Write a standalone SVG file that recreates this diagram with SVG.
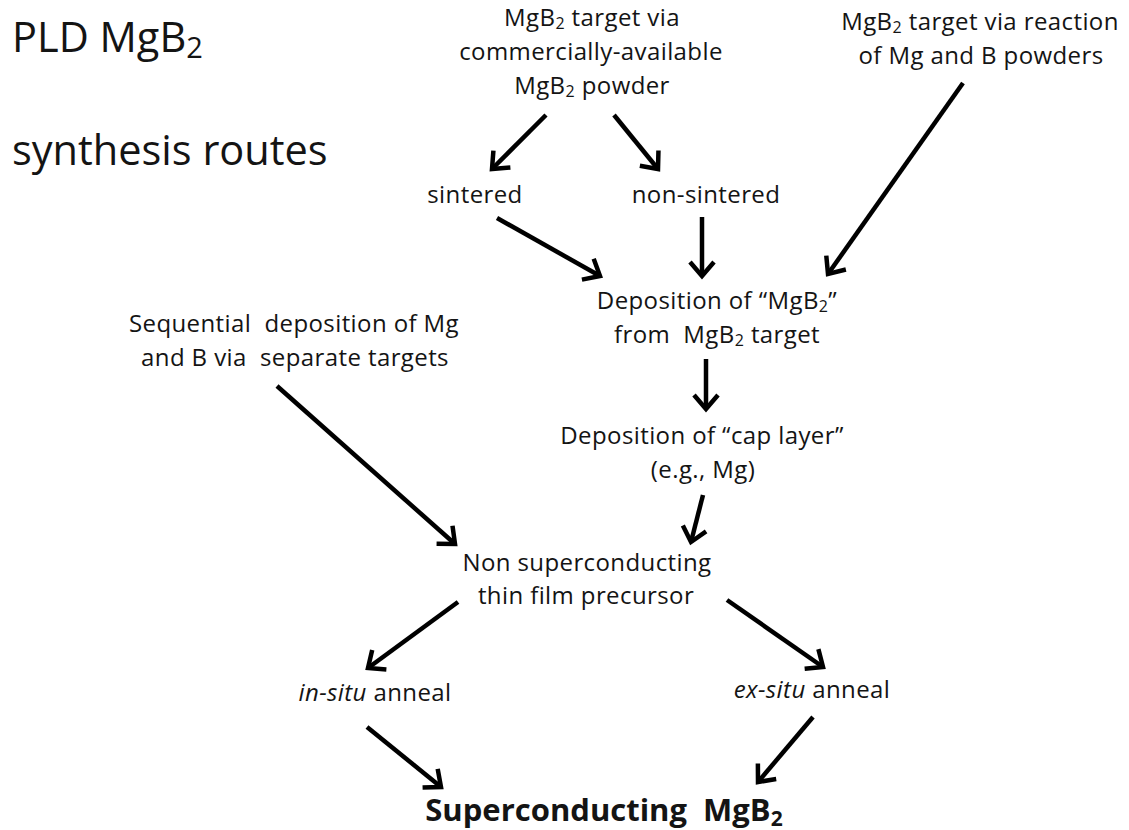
<svg xmlns="http://www.w3.org/2000/svg" width="1129" height="830" viewBox="0 0 1129 830">
  <style>
    text { font-family: "Open Sans", Lato, "Liberation Sans", sans-serif; fill: #141414; white-space: pre; }
    .title { font-size: 41.5px; }
    .lbl { font-size: 24px; letter-spacing: 0.4px; text-anchor: middle; }
    .final { font-size: 31px; font-weight: bold; text-anchor: middle; }
    .it { font-style: italic; }
    .conn line { stroke: #000; stroke-width: 4.5; stroke-linecap: butt; marker-end: url(#head); }
  </style>
  <defs>
    <marker id="head" markerUnits="userSpaceOnUse" orient="auto" markerWidth="40" markerHeight="40" refX="0" refY="0" viewBox="-24 -20 30 40" overflow="visible">
      <path d="M-14,-12 L0,0 L-14,12" fill="none" stroke="#000" stroke-width="4.5" stroke-linejoin="miter"/>
    </marker>
  </defs>
  <rect width="1129" height="830" fill="#fff"/>

  <!-- heading -->
  <g id="heading">
    <text class="title" x="12" y="52">PLD MgB<tspan font-size="29" dy="6">2</tspan></text>
    <text class="title" x="12" y="165">synthesis routes</text>
  </g>

  <!-- nodes -->
  <g id="commercial-powder">
    <text class="lbl" x="592" y="26">MgB<tspan font-size="16" dy="3">2</tspan><tspan dy="-3"> target via</tspan></text>
    <text class="lbl" x="591" y="60">commercially-available</text>
    <text class="lbl" x="592" y="94">MgB<tspan font-size="16" dy="3">2</tspan><tspan dy="-3"> powder</tspan></text>
  </g>
  <g id="reacted-powder">
    <text class="lbl" x="980" y="30">MgB<tspan font-size="16" dy="3">2</tspan><tspan dy="-3"> target via reaction</tspan></text>
    <text class="lbl" x="981" y="64">of Mg and B powders</text>
  </g>
  <g id="sintered">
    <text class="lbl" x="475" y="203">sintered</text>
  </g>
  <g id="non-sintered">
    <text class="lbl" x="706" y="203">non-sintered</text>
  </g>
  <g id="deposition-mgb2">
    <text class="lbl" x="717" y="309">Deposition of “MgB<tspan font-size="16" dy="3">2</tspan><tspan dy="-3">”</tspan></text>
    <text class="lbl" x="717" y="343">from  MgB<tspan font-size="16" dy="3">2</tspan><tspan dy="-3"> target</tspan></text>
  </g>
  <g id="sequential-deposition">
    <text class="lbl" x="294" y="332">Sequential  deposition of Mg</text>
    <text class="lbl" x="295" y="366">and B via  separate targets</text>
  </g>
  <g id="cap-layer">
    <text class="lbl" x="702" y="444">Deposition of “cap layer”</text>
    <text class="lbl" x="703" y="478">(e.g., Mg)</text>
  </g>
  <g id="precursor">
    <text class="lbl" x="587" y="571">Non superconducting</text>
    <text class="lbl" x="586" y="604">thin film precursor</text>
  </g>
  <g id="in-situ">
    <text class="lbl" x="375" y="701"><tspan class="it">in-situ</tspan> anneal</text>
  </g>
  <g id="ex-situ">
    <text class="lbl" x="812" y="698"><tspan class="it">ex-situ</tspan> anneal</text>
  </g>
  <g id="superconducting">
    <text class="final" x="604" y="821">Superconducting  MgB<tspan font-size="21" dy="5">2</tspan></text>
  </g>

  <!-- connectors -->
  <g class="conn" id="connectors">
    <line x1="546" y1="115" x2="492" y2="169"/>
    <line x1="614" y1="115" x2="658" y2="169"/>
    <line x1="497" y1="218" x2="600" y2="276"/>
    <line x1="702" y1="217" x2="702" y2="276"/>
    <line x1="963" y1="83" x2="828" y2="274"/>
    <line x1="706" y1="359" x2="706" y2="409"/>
    <line x1="277" y1="386" x2="455" y2="544"/>
    <line x1="703" y1="495" x2="691" y2="542"/>
    <line x1="458" y1="602" x2="368" y2="668"/>
    <line x1="727" y1="600" x2="823" y2="667"/>
    <line x1="367" y1="727" x2="441" y2="787"/>
    <line x1="813" y1="717" x2="758" y2="782"/>
  </g>
</svg>
